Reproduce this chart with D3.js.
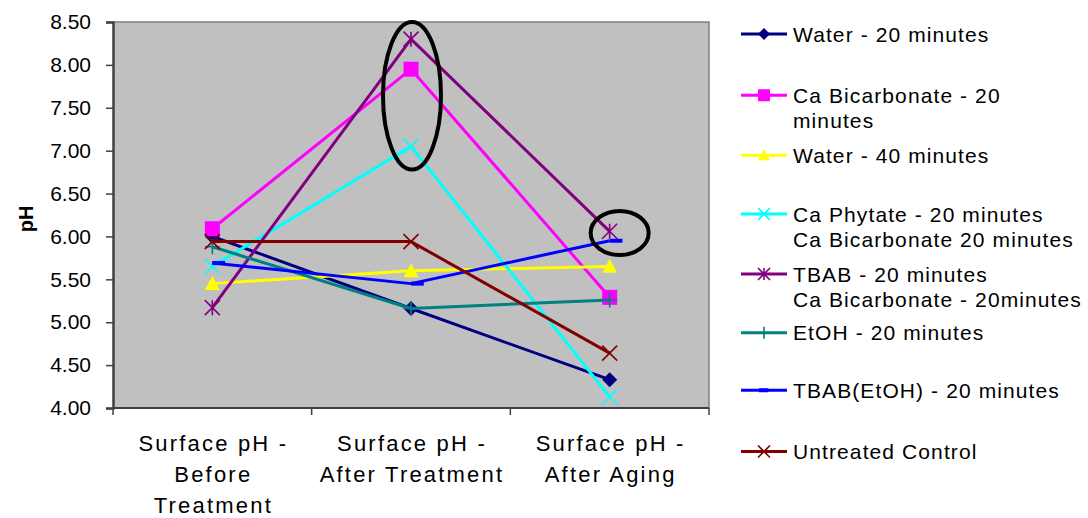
<!DOCTYPE html>
<html><head><meta charset="utf-8">
<script src="https://cdn.jsdelivr.net/npm/d3@7"></script>
<style>body{margin:0;background:#fff}svg{display:block;font-family:"Liberation Sans",Arial,sans-serif}</style>
</head><body><svg id="c" width="1088" height="518"></svg>
<script>
const categories = [["Surface pH -","Before","Treatment"],["Surface pH -","After Treatment"],["Surface pH -","After Aging"]];
const seriesNames = [["Water - 20 minutes"],["Ca Bicarbonate - 20","minutes"],["Water - 40 minutes"],["Ca Phytate - 20 minutes","Ca Bicarbonate 20 minutes"],["TBAB - 20 minutes","Ca Bicarbonate - 20minutes"],["EtOH - 20 minutes"],["TBAB(EtOH) - 20 minutes"],["Untreated Control"]];
const water20   = [6.00, 5.16, 4.33];
const caBicarb  = [6.09, 7.95, 5.29];
const water40   = [5.45, 5.60, 5.65];
const caPhytate = [5.65, 7.05, 4.13];
const tbab      = [5.17, 8.30, 6.06];
const etoh      = [5.88, 5.16, 5.26];
const tbabEtoh  = [5.69, 5.45, 5.95];
const control   = [5.94, 5.94, 4.64];
const yTicks = [4.0,4.5,5.0,5.5,6.0,6.5,7.0,7.5,8.0,8.5];
const legendRows = [0, 2.45, 4.85, 7.2, 9.6, 11.95, 14.25, 16.7];

const seriesVals = [water20, caBicarb, water40, caPhytate, tbab, etoh, tbabEtoh, control];
const colors = ["#000080","#FF00FF","#FFFF00","#00FFFF","#800080","#008080","#0000FF","#800000"];
const markers = ["diamond","square","triangle","x","star","plus","dash","x"];

const svg = d3.select("#c");
const L=113, R=709, T=22, B=408;
const x = d3.scalePoint().domain(d3.range(categories.length)).range([L,R]).padding(0.5);
const step = x.step();
const y = d3.scaleLinear().domain([4,8.5]).range([B,T]);

svg.append("rect").attr("x",L).attr("y",T).attr("width",R-L).attr("height",B-T).attr("fill","#C0C0C0");
svg.append("path").attr("d",`M${L},${T}H${R}V${B}`).attr("fill","none").attr("stroke","#808080").attr("stroke-width",1.5);

// y axis
const ya = svg.append("g").attr("transform",`translate(${L},0)`)
  .call(d3.axisLeft(y).tickValues(yTicks).tickFormat(d3.format(".2f")).tickSize(7).tickPadding(15));
ya.select(".domain").attr("stroke","#404040").attr("stroke-width",2.5);
ya.selectAll(".tick line").attr("stroke","#404040").attr("stroke-width",1.5);
ya.selectAll("text").attr("font-size",21).attr("fill","#000").attr("font-family","Liberation Sans, Arial");

// x axis
const xa = svg.append("g");
xa.append("line").attr("x1",L).attr("x2",R).attr("y1",B).attr("y2",B).attr("stroke","#404040").attr("stroke-width",2);
const bounds = [x(0)-step/2].concat(categories.map((c,i)=>x(i)+step/2));
xa.selectAll(".xt").data(bounds).join("line").attr("x1",d=>d).attr("x2",d=>d).attr("y1",B).attr("y2",B+7).attr("stroke","#404040").attr("stroke-width",1.5);
categories.forEach((lines,i)=>{
  const t = xa.append("text").attr("text-anchor","middle").attr("font-size",22).attr("letter-spacing","2.2px").attr("fill","#000");
  lines.forEach((s,j)=>t.append("tspan").attr("x",x(i)+1).attr("y",451+j*31).text(s));
});

// y title
svg.append("text").attr("transform","translate(33,219) rotate(-90)").attr("text-anchor","middle")
  .attr("font-size",20).attr("font-weight","bold").text("pH");

function drawMarker(g, type, cx, cy, color, s){
  const h=s/2;
  if(type==="diamond") g.append("path").attr("d",`M${cx},${cy-h}L${cx+h},${cy}L${cx},${cy+h}L${cx-h},${cy}Z`).attr("fill",color);
  else if(type==="square") g.append("rect").attr("x",cx-h).attr("y",cy-h).attr("width",s).attr("height",s).attr("fill",color);
  else if(type==="triangle") g.append("path").attr("d",`M${cx},${cy-h}L${cx+h},${cy+h*0.85}L${cx-h},${cy+h*0.85}Z`).attr("fill",color);
  else if(type==="x") g.append("path").attr("d",`M${cx-h},${cy-h}L${cx+h},${cy+h}M${cx+h},${cy-h}L${cx-h},${cy+h}`).attr("stroke",color).attr("stroke-width",1.6);
  else if(type==="star") g.append("path").attr("d",`M${cx-h},${cy-h}L${cx+h},${cy+h}M${cx+h},${cy-h}L${cx-h},${cy+h}M${cx},${cy-h}V${cy+h}`).attr("stroke",color).attr("stroke-width",1.6);
  else if(type==="plus") g.append("path").attr("d",`M${cx-h},${cy}H${cx+h}M${cx},${cy-h}V${cy+h}`).attr("stroke",color).attr("stroke-width",1.6);
  else if(type==="dash") g.append("rect").attr("x",cx).attr("y",cy-2).attr("width",s*0.85).attr("height",4).attr("fill",color);
}

const line = d3.line().x((d,i)=>x(i)).y(d=>y(d));
const plot = svg.append("g");
seriesVals.forEach((vals,k)=>{
  const g = plot.append("g");
  g.append("path").attr("d",line(vals)).attr("fill","none").attr("stroke",colors[k]).attr("stroke-width",3).attr("stroke-linejoin","round");
  vals.forEach((v,i)=>drawMarker(g, markers[k], x(i), y(v), colors[k], 15));
});

// annotation ellipses
const ann = svg.append("g").attr("fill","none").attr("stroke","#000").attr("stroke-width",4);
ann.append("ellipse").attr("cx",x(1)+1).attr("cy",(y(8.5)+y(6.78))/2).attr("rx",29).attr("ry",(y(6.78)-y(8.5))/2);
ann.append("ellipse").attr("cx",x(2)+10).attr("cy",y(6.04)).attr("rx",29).attr("ry",22);

// legend
const lg = svg.append("g");
const rowH = 25;
seriesNames.forEach((lines,k)=>{
  const cy = 34 + legendRows[k]*rowH;
  lg.append("line").attr("x1",741).attr("x2",787).attr("y1",cy).attr("y2",cy).attr("stroke",colors[k]).attr("stroke-width",3);
  drawMarker(lg, markers[k], markers[k]==="dash"?759:764, cy, colors[k], markers[k]==="dash"?11:12);
  const t = lg.append("text").attr("font-size",21).attr("letter-spacing","1.1px").attr("fill","#000");
  lines.forEach((s,j)=>t.append("tspan").attr("x",793).attr("y",cy+7.5+j*rowH).text(s));
});
</script></body></html>
